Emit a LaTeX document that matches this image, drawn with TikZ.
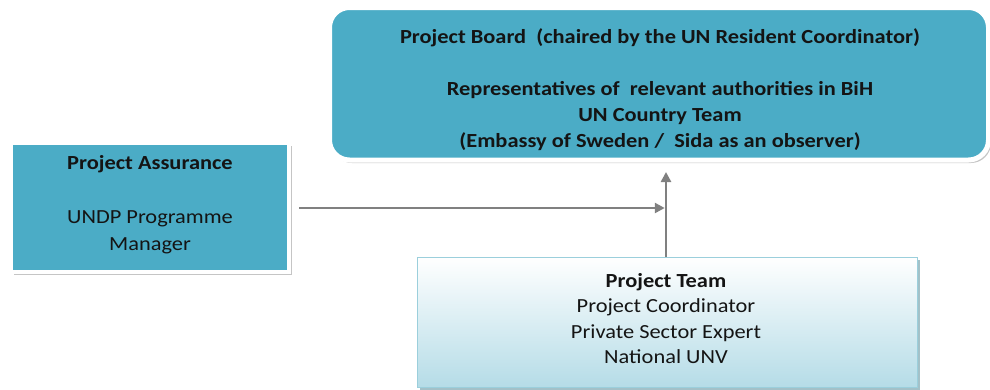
\documentclass[tikz,border=0pt]{standalone}
\usepackage{fontspec}
\setmainfont{Carlito}[FakeStretch=1.12]
\usetikzlibrary{shadows,arrows.meta}
\definecolor{aqua}{HTML}{4BACC6}
\definecolor{teamtop}{HTML}{FFFFFF}
\definecolor{teambot}{HTML}{B5DCE7}
\definecolor{teamline}{HTML}{9BCFDC}
\definecolor{arrowgray}{HTML}{808080}
\definecolor{txt}{HTML}{141414}
\tikzset{
  aquabox/.style={draw=white, fill=aqua,
    drop shadow={shadow xshift=2.5pt, shadow yshift=-3pt, fill=black!45, opacity=.5}},
  teambox/.style={draw=teamline, line width=1pt, top color=teamtop, bottom color=teambot,
    drop shadow={shadow xshift=3pt, shadow yshift=-3pt, fill=teamline!80!black, opacity=.7}},
  label/.style={align=center, text=txt, inner sep=0pt},
  conn/.style={draw=arrowgray, line width=2.5pt, -{Triangle[length=10pt,width=10pt]}},
}
\begin{document}
\begin{tikzpicture}[x=1pt,y=-1pt]
\useasboundingbox (0,0) rectangle (990,389);
\node[aquabox, line width=5pt, rounded corners=20pt, minimum width=659pt, minimum height=152.5pt] (board) at (659,83.75) {};
\node[label, font=\fontsize{20}{26}\selectfont\bfseries] (boardtext) at (660,90)
  {Project Board\ \ (chaired by the UN Resident Coordinator)\\[26pt]
   Representatives of\ \ relevant authorities in BiH\\
   UN Country Team\\
   (Embassy of Sweden /\ \ Sida as an observer)};
\node[aquabox, line width=4pt, minimum width=278pt, minimum height=129pt] (assur) at (150,207.5) {};
\node[label, font=\fontsize{20}{27}\selectfont] (assurtext) at (150,205)
  {\textbf{Project Assurance}\\[27pt] UNDP Programme\\ Manager};
\node[teambox, minimum width=500pt, minimum height=130pt] (team) at (667,322) {};
\node[label, font=\fontsize{20}{25.3}\selectfont] (teamtext) at (666,318.5)
  {\textbf{Project Team}\\ Project Coordinator\\ Private Sector Expert\\ National UNV};
\coordinate (junc) at (666,208);
\draw[conn] (team.north -| junc) -- (junc |- 172,172);
\draw[conn, shorten <=8pt] (assur.east |- junc) -- ([xshift=-1.25pt]junc);
\end{tikzpicture}
\end{document}
